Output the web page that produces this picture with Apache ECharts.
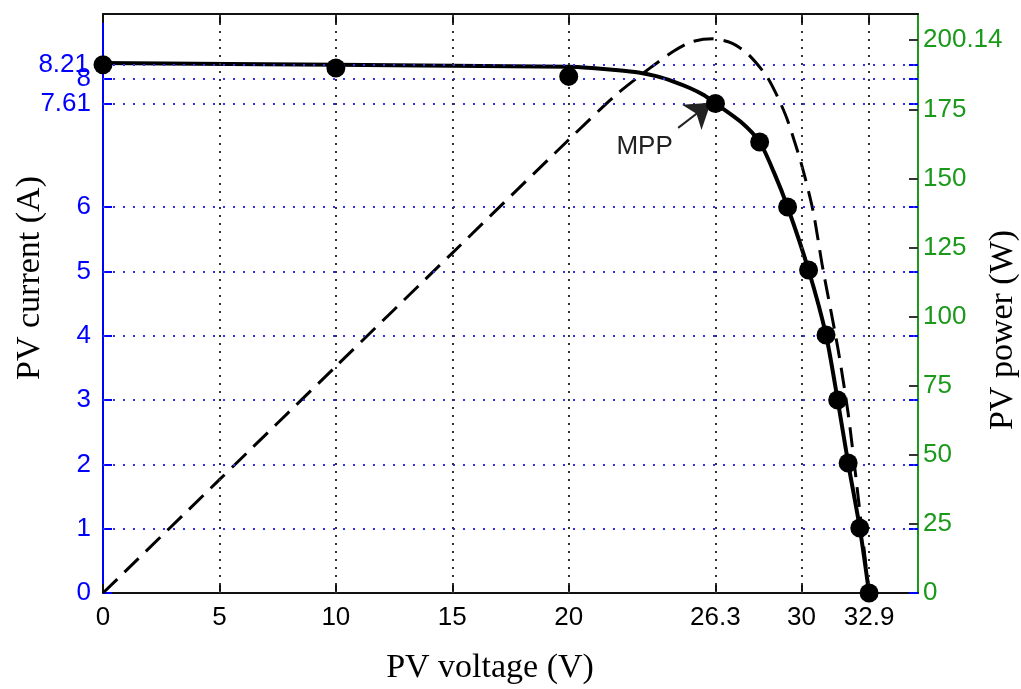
<!DOCTYPE html>
<html><head><meta charset="utf-8">
<script src="https://cdn.jsdelivr.net/npm/echarts@6/dist/echarts.min.js"></script>
<style>html,body{margin:0;padding:0;background:#fff}#c{width:1021px;height:689px}</style>
</head><body><div id="c"></div>
<script>
// ---- data ----
const xTicks = [0, 5, 10, 15, 20, 26.3, 30, 32.9];
const yLeftTicks = [0, 1, 2, 3, 4, 5, 6, 7.61, 8, 8.21];
const yLeftTopLabel = [8.21];
const yRightTicks = [0, 25, 50, 75, 100, 125, 150, 175, 200.14];

const ivCurveV = [0, 10, 20, 21, 22, 23, 23.8, 24.5, 25.2, 25.8, 26.3, 27.4, 28.2, 28.8, 29.4, 30.3, 31.05, 31.55, 32.0, 32.5, 32.9];
const ivCurveI = [8.24, 8.21, 8.18, 8.16, 8.13, 8.09, 8.03, 7.95, 7.85, 7.74, 7.61, 7.32, 7.01, 6.55, 6.0, 5.02, 4.01, 3.0, 2.02, 1.01, 0];

const ivMarkV = [0, 10, 20, 26.3, 28.2, 29.4, 30.3, 31.05, 31.55, 32.0, 32.5, 32.9];
const ivMarkI = [8.21, 8.16, 8.03, 7.61, 7.01, 6.0, 5.02, 4.01, 3.0, 2.02, 1.01, 0];

const powerV = [0, 5, 10, 15, 20, 22, 23.5, 24.5, 25.3, 26.2, 27, 27.7, 28.5, 29, 29.4, 30, 30.5, 30.9, 31.55, 32, 32.4, 32.75, 32.9];
const powerP = [0, 41, 82, 123, 164, 180, 190, 196, 199.5, 200.5, 199, 195, 187, 179, 171, 155, 138, 118, 89, 65, 37, 11, 0];

const mppLabel = 'MPP';
const mppArrowFrom = [24.7, 7.23];
const mppArrowTo = [26.1, 7.62];
const mppTextAt = [23.26, 6.93];

const xName = 'PV voltage (V)';
const yLeftName = 'PV current (A)';
const yRightName = 'PV power (W)';

// ---- chart ----
const SANS = "'Liberation Sans',Arial,sans-serif";
const SERIF = "'Liberation Serif','Times New Roman',serif";
const BLUE = '#0000ff';
const GREEN = '#1a991a';
const TICK_FS = 26;

const zip = (a, b) => a.map((v, i) => [v, b[i]]);

const chart = echarts.init(document.getElementById('c'), null, {renderer: 'canvas'});
chart.setOption({
  animation: false,
  backgroundColor: '#fff',
  grid: {left: 103, right: 103, top: 14, bottom: 96, containLabel: false, outerBoundsMode: 'none'},
  xAxis: [
    {
      type: 'value', min: 0, max: 35, position: 'bottom',
      axisLine: {show: true, onZero: false, lineStyle: {color: '#111', width: 2}},
      axisTick: {show: true, inside: true, length: 9, customValues: xTicks, lineStyle: {color: '#111', width: 2}},
      axisLabel: {show: true, customValues: xTicks, hideOverlap: false, color: '#000', fontFamily: SANS, fontSize: TICK_FS, margin: 12},
      splitLine: {show: false}
    },
    {
      type: 'value', min: 0, max: 35, position: 'top',
      axisLine: {show: true, onZero: false, lineStyle: {color: '#111', width: 2}},
      axisTick: {show: true, inside: true, length: 9, customValues: xTicks, lineStyle: {color: '#111', width: 2}},
      axisLabel: {show: false},
      splitLine: {show: false}
    }
  ],
  yAxis: [
    {
      type: 'value', min: 0, max: 9, position: 'left',
      axisLine: {show: true, onZero: false, lineStyle: {color: BLUE, width: 2}},
      axisTick: {show: true, inside: true, length: 9, customValues: yLeftTicks, lineStyle: {color: BLUE, width: 2}},
      axisLabel: {show: true, customValues: yLeftTicks, hideOverlap: false, color: BLUE, fontFamily: SANS, fontSize: TICK_FS, margin: 12},
      splitLine: {show: false}
    },
    {
      type: 'value', min: 0, max: 209.5, position: 'right',
      axisLine: {show: true, onZero: false, lineStyle: {color: GREEN, width: 2}},
      axisTick: {show: true, inside: true, length: 9, customValues: yRightTicks, lineStyle: {color: '#333', width: 2}},
      axisLabel: {show: true, customValues: yRightTicks, hideOverlap: false, color: GREEN, fontFamily: SANS, fontSize: TICK_FS, margin: 5},
      splitLine: {show: false}
    },
    {
      type: 'value', min: 0, max: 9, position: 'right',
      axisLine: {show: false, onZero: false},
      axisTick: {show: true, inside: true, length: 9, customValues: yLeftTicks, lineStyle: {color: BLUE, width: 2}},
      axisLabel: {show: false},
      splitLine: {show: false}
    },
    {
      type: 'value', min: 0, max: 9, position: 'left',
      axisLine: {show: false, onZero: false},
      axisTick: {show: false},
      axisLabel: {show: true, customValues: yLeftTopLabel, hideOverlap: false, color: BLUE, fontFamily: SANS, fontSize: TICK_FS, margin: 14},
      splitLine: {show: false}
    }
  ],
  graphic: [
    {type: 'text', x: 490, y: 668, style: {text: xName, font: "34px " + SERIF, fill: '#000', align: 'center', verticalAlign: 'middle'}},
    {type: 'text', x: 30, y: 278, rotation: Math.PI / 2, style: {text: yLeftName, font: "34px " + SERIF, fill: '#000', align: 'center', verticalAlign: 'middle'}},
    {type: 'text', x: 1003, y: 330, rotation: Math.PI / 2, style: {text: yRightName, font: "34px " + SERIF, fill: '#000', align: 'center', verticalAlign: 'middle'}}
  ],
  series: [
    {
      name: 'grid', type: 'line', xAxisIndex: 0, yAxisIndex: 0, z: 1,
      data: zip(ivMarkV, ivMarkI), symbol: 'none', lineStyle: {opacity: 0}, silent: true,
      markLine: {
        silent: true, symbol: ['none', 'none'], label: {show: false}, animation: false,
        data: [
          ...yLeftTicks.filter(v => v > 0).map(v => ({yAxis: v, lineStyle: {color: '#3030f0', width: 2, type: [2, 8]}})),
          ...xTicks.filter(v => v > 0).map(v => ({xAxis: v, lineStyle: {color: '#333', width: 2, type: [2, 6]}}))
        ]
      }
    },
    {
      name: 'power', type: 'line', xAxisIndex: 0, yAxisIndex: 1, z: 3,
      data: zip(powerV, powerP), symbol: 'none', smooth: 0.25,
      lineStyle: {color: '#000', width: 3, type: [20, 10]}
    },
    {
      name: 'iv', type: 'line', xAxisIndex: 0, yAxisIndex: 0, z: 4,
      data: zip(ivCurveV, ivCurveI), symbol: 'none', smooth: 0.25,
      lineStyle: {color: '#000', width: 4},
      markLine: {
        silent: true, symbol: ['none', 'arrow'], symbolSize: 24, label: {show: false}, animation: false,
        lineStyle: {color: '#222', width: 2, type: 'solid'},
        itemStyle: {color: '#000'},
        data: [[{coord: mppArrowFrom}, {coord: mppArrowTo}]]
      }
    },
    {
      name: 'points', type: 'scatter', xAxisIndex: 0, yAxisIndex: 0, z: 5,
      data: zip(ivMarkV, ivMarkI), symbol: 'circle', symbolSize: 19,
      itemStyle: {color: '#000', opacity: 1},
      markPoint: {
        silent: true, symbol: 'circle', symbolSize: 1, itemStyle: {color: 'rgba(0,0,0,0)'},
        label: {show: true, position: 'inside', formatter: mppLabel, color: '#222', fontFamily: SANS, fontSize: 26},
        data: [{coord: mppTextAt}]
      }
    }
  ]
});
</script></body></html>
